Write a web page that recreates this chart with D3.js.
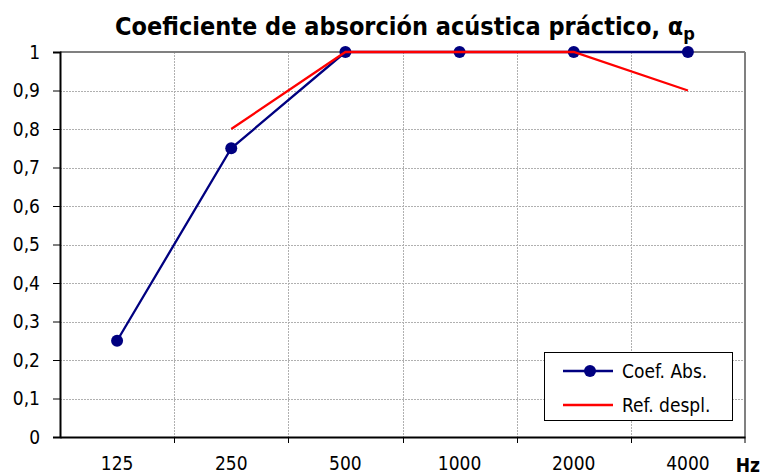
<!DOCTYPE html>
<html><head><meta charset="utf-8">
<script src="https://cdn.jsdelivr.net/npm/d3@7"></script>
<style>body{margin:0;background:#fff}svg{display:block}</style>
</head><body>
<script>
const categories = ["125","250","500","1000","2000","4000"];
const coefAbs = [0.25, 0.75, 1, 1, 1, 1];
const refDespl = [null, 0.8, 1, 1, 1, 0.9];
const yTicks = [0,0.1,0.2,0.3,0.4,0.5,0.6,0.7,0.8,0.9,1];
const seriesNames = ["Coef. Abs.", "Ref. despl."];

const W = 761, H = 475;
const m = {left:60, right:16, top:52, bottom:38};
const svg = d3.select("body").append("svg").attr("width",W).attr("height",H);
const font = "DejaVu Sans Condensed, DejaVu Sans, sans-serif";

const x = d3.scaleBand().domain(categories).range([m.left, W-m.right]);
const y = d3.scaleLinear().domain([0,1]).range([H-m.bottom, m.top]);
const fmt = d => d3.format(".1~f")(d).replace(".", ",");

// grid
const g = svg.append("g");
g.selectAll(".hg").data(yTicks.slice(1,-1)).join("line")
  .attr("x1", m.left).attr("x2", W-m.right)
  .attr("y1", d=>Math.round(y(d))+0.5).attr("y2", d=>Math.round(y(d))+0.5)
  .attr("stroke","#b0b0b0").attr("stroke-dasharray","2,1").attr("stroke-width",1);
g.selectAll(".vg").data(categories.slice(1)).join("line")
  .attr("x1", d=>Math.round(x(d))+0.5).attr("x2", d=>Math.round(x(d))+0.5)
  .attr("y1", m.top).attr("y2", H-m.bottom)
  .attr("stroke","#b0b0b0").attr("stroke-dasharray","2,1").attr("stroke-width",1);
// top and right border
svg.append("line").attr("x1",m.left).attr("x2",W-m.right).attr("y1",m.top).attr("y2",m.top)
  .attr("stroke","#808080").attr("stroke-width",2);
svg.append("line").attr("x1",W-m.right).attr("x2",W-m.right).attr("y1",m.top).attr("y2",H-m.bottom)
  .attr("stroke","#808080").attr("stroke-width",2);

// y axis
const ya = svg.append("g").attr("transform",`translate(${m.left},0)`)
  .call(d3.axisLeft(y).tickValues(yTicks).tickFormat(fmt).tickSize(7).tickPadding(13));
ya.select(".domain").attr("stroke","#000").attr("stroke-width",2);
ya.selectAll(".tick line").attr("stroke","#000");
ya.selectAll("text").attr("font-family",font).attr("font-size",19).attr("fill","#000");

// x axis
const xa = svg.append("g").attr("transform",`translate(0,${H-m.bottom})`)
  .call(d3.axisBottom(x).tickSize(0).tickPadding(20));
xa.select(".domain").attr("stroke","#000").attr("stroke-width",2);
xa.selectAll("text").attr("font-family",font).attr("font-size",19).attr("fill","#000");
xa.selectAll(".bt").data(categories.slice(1).concat(["end"])).join("line")
  .attr("x1", d=> d==="end" ? W-m.right : Math.round(x(d))+0.5)
  .attr("x2", d=> d==="end" ? W-m.right : Math.round(x(d))+0.5)
  .attr("y1",0).attr("y2",6).attr("stroke","#000");
svg.append("text").attr("x",W-1).attr("y",H-3).attr("text-anchor","end")
  .attr("font-family",font).attr("font-weight","bold").attr("font-size",19).text("Hz");

const cx = d => x(d) + x.bandwidth()/2;
const line = d3.line().defined(d=>d.v!=null).x(d=>cx(d.c)).y(d=>y(d.v));
const coefData = categories.map((c,i)=>({c, v:coefAbs[i]}));
const refData = categories.map((c,i)=>({c, v:refDespl[i]}));

svg.append("path").attr("d", line(coefData)).attr("fill","none").attr("stroke","#000080").attr("stroke-width",2.3);
svg.selectAll(".pt").data(coefData).join("circle").attr("cx",d=>cx(d.c)).attr("cy",d=>y(d.v))
  .attr("r",6).attr("fill","#000080");
svg.append("path").attr("d", line(refData)).attr("fill","none").attr("stroke","#ff0000").attr("stroke-width",2.3);

// legend
const lg = svg.append("g").attr("transform","translate(544,352)");
lg.append("rect").attr("x",0.5).attr("y",0.5).attr("width",188).attr("height",68)
  .attr("fill","#fff").attr("stroke","#000");
const colors = ["#000080","#ff0000"];
seriesNames.forEach((n,i)=>{
  const yy = 19 + i*34;
  lg.append("line").attr("x1",19).attr("x2",69).attr("y1",yy).attr("y2",yy)
    .attr("stroke",colors[i]).attr("stroke-width",2.3);
  if(i===0) lg.append("circle").attr("cx",46).attr("cy",yy).attr("r",6).attr("fill",colors[i]);
  lg.append("text").attr("x",78).attr("y",yy+7).attr("font-family",font).attr("font-size",19).text(n);
});

// title
const t = svg.append("text").attr("x",115).attr("y",35).attr("font-family",font)
  .attr("font-weight","bold").attr("font-size",25);
t.append("tspan").text("Coeficiente de absorción acústica práctico, α");
t.append("tspan").attr("font-size",18).attr("dy",5).text("p");
</script>
</body></html>
